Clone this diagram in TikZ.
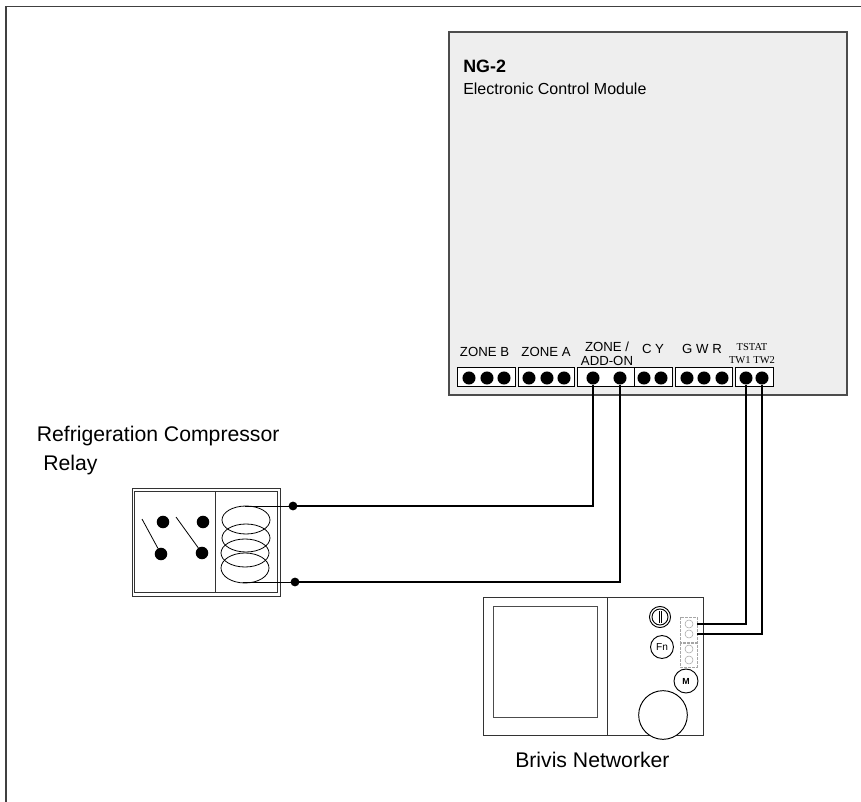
\documentclass[tikz,border=0pt]{standalone}
\usepackage{fontspec}
\setmainfont{Liberation Sans}
\newfontfamily\serifsmall{Liberation Serif}
\begin{document}
\begin{tikzpicture}[x=0.75pt,y=-0.75pt]
	\tikzset{
		frameline/.style={line width=1.3pt, black!75},
		modline/.style={line width=1pt, black!70},
		thinbox/.style={line width=0.75pt, black!80},
		wire/.style={line width=1.3pt, black},
		term/.style={circle,fill=black,minimum size=9.8pt,inner sep=0pt,outer sep=0pt},
		pad/.style={circle,fill=black,minimum size=9.4pt,inner sep=0pt,outer sep=0pt},
		joint/.style={circle,fill=black,minimum size=6.6pt,inner sep=0pt,outer sep=0pt},
		strip/.style={draw=black, line width=0.7pt, fill=white},
		hole/.style={draw=black!35, line width=0.4pt},
		btn/.style={circle,draw=black,line width=0.7pt,fill=white,inner sep=0pt,outer sep=0pt},
		lbl/.style={inner sep=0pt, anchor=base, font=\fontsize{9.9pt}{10.2pt}\selectfont, align=center},
		biglbl/.style={inner sep=0pt, anchor=base west, font=\fontsize{15.9pt}{18pt}\selectfont},
		tinylbl/.style={inner sep=0pt, anchor=base, font=\serifsmall\fontsize{7.9pt}{9pt}\selectfont},
	}
	\useasboundingbox (0,0) rectangle (861,802);

	% Page frame, open at the right and the bottom.
	\draw[frameline] (6,802) -- (6,6.5) -- (861,6.5);

	% Control module.
	\draw[modline, fill=black!6.5] (449,32) rectangle (847,395);
	\node[inner sep=0pt, anchor=base west, font=\bfseries\fontsize{13.4pt}{15pt}\selectfont] (ngtitle) at (463,73) {NG-2};
	\node[inner sep=0pt, anchor=base west, font=\fontsize{12pt}{14pt}\selectfont] (ngsub) at (463,95) {Electronic Control Module};

	% Terminal strips.
	\draw[strip] (457,367.5) rectangle (515,386);
	\draw[strip] (518,367.5) rectangle (574,386);
	\draw[strip] (577,367.5) rectangle (634,386);
	\draw[strip] (634,367.5) rectangle (672,386);
	\draw[strip] (675,367.5) rectangle (732,386);
	\draw[strip] (735,367.5) rectangle (773,386);

	\node[term] (zb1) at (469,378) {};
	\node[term] (zb2) at (487,378) {};
	\node[term] (zb3) at (504,378) {};
	\node[term] (za1) at (529,378) {};
	\node[term] (za2) at (547,378) {};
	\node[term] (za3) at (564,378) {};
	\node[term] (addl) at (593,378) {};
	\node[term] (addr) at (620,378) {};
	\node[term] (cc) at (644,378) {};
	\node[term] (yy) at (661,378) {};
	\node[term] (gg) at (687,378) {};
	\node[term] (ww) at (704,378) {};
	\node[term] (rr) at (722,378) {};
	\node[term] (twa) at (746,378) {};
	\node[term] (twb) at (762,378) {};

	\node[lbl] (zblbl) at (484.5,357) {ZONE B};
	\node[lbl] (zalbl) at (546,357) {ZONE A};
	\node[lbl, anchor=center] (addlbl) at (607,353.5) {ZONE /\\ADD-ON};
	\node[lbl] (cylbl) at (653,354) {C Y};
	\node[lbl] (gwrlbl) at (702,354) {G W R};
	\node[tinylbl] (tslbl) at (752,351) {TSTAT};
	\node[tinylbl] (twlbl) at (752,364) {TW1 TW2};

	% Relay.
	\draw[thinbox] (132,488) rectangle (280,596);
	\draw[thinbox] (134.7,491) rectangle (277,592);
	\draw[thinbox] (215,491) -- (215,592);
	\draw[line width=0.6pt] (246,520) ellipse (24 and 14);
	\draw[line width=0.6pt] (246,538) ellipse (24 and 14);
	\draw[line width=0.6pt] (245,553) ellipse (24 and 14);
	\draw[line width=0.6pt] (245,568) ellipse (24 and 15);

	\node[pad] (swa) at (163,522) {};
	\node[pad] (swb) at (203,522) {};
	\node[pad] (swc) at (161,554) {};
	\node[pad] (swd) at (202,553) {};
	\coordinate (arma) at (142,519);
	\coordinate (armb) at (176,517);
	\draw[line width=0.6pt] (arma) -- (swc);
	\draw[line width=0.6pt] (armb) -- (swd);

	\node[joint] (jta) at (293,506) {};
	\node[joint] (jtb) at (295,582) {};
	\coordinate (coila) at (245,506);
	\coordinate (coilb) at (243,582);
	\draw[line width=0.6pt] (coila) -- (jta);
	\draw[line width=0.6pt] (coilb) -- (jtb);

	\node[biglbl] (rellbla) at (36.5,441) {Refrigeration Compressor};
	\node[biglbl] (rellblb) at (43,470) {Relay};

	% Networker.
	\draw[thinbox] (483,597) rectangle (703,735);
	\draw[thinbox] (607,597) -- (607,735);
	\draw[thinbox, black!70] (493,606) rectangle (597,717);

	\node[btn, minimum size=15.8pt] (pwr) at (660,617) {};
	\node[btn, minimum size=12pt] (pwri) at (660,617) {};
	\draw[line width=0.5pt] (659,611) -- (659,623);
	\draw[line width=0.5pt] (661,611) -- (661,623);
	\node[btn, minimum size=17.2pt, font=\fontsize{7.6pt}{8pt}\selectfont] (fnbtn) at (662,647) {Fn};
	\node[btn, minimum size=18pt, font=\bfseries\fontsize{6.6pt}{8pt}\selectfont] (mbtn) at (686,681) {M};
	\node[btn, minimum size=36.5pt] (dial) at (663,715) {};

	\draw[hole, dashed, dash pattern=on 2pt off 1pt] (680,617) rectangle (697,642);
	\draw[hole, dashed, dash pattern=on 2pt off 1pt] (680,643) rectangle (697,667);
	\draw[hole] (689,624) circle (4);
	\draw[hole] (689,634) circle (4);
	\draw[hole] (689,649) circle (4);
	\draw[hole] (689,660) circle (4);

	\coordinate (neta) at (697,624);
	\coordinate (netb) at (697,634);

	\node[biglbl] (netlbl) at (515,767) {Brivis Networker};

	% Wires between the parts.
	\draw[wire] (addl) |- (jta);
	\draw[wire] (addr) |- (jtb);
	\draw[wire] (twa) |- (neta);
	\draw[wire] (twb) |- (netb);
\end{tikzpicture}
\end{document}
